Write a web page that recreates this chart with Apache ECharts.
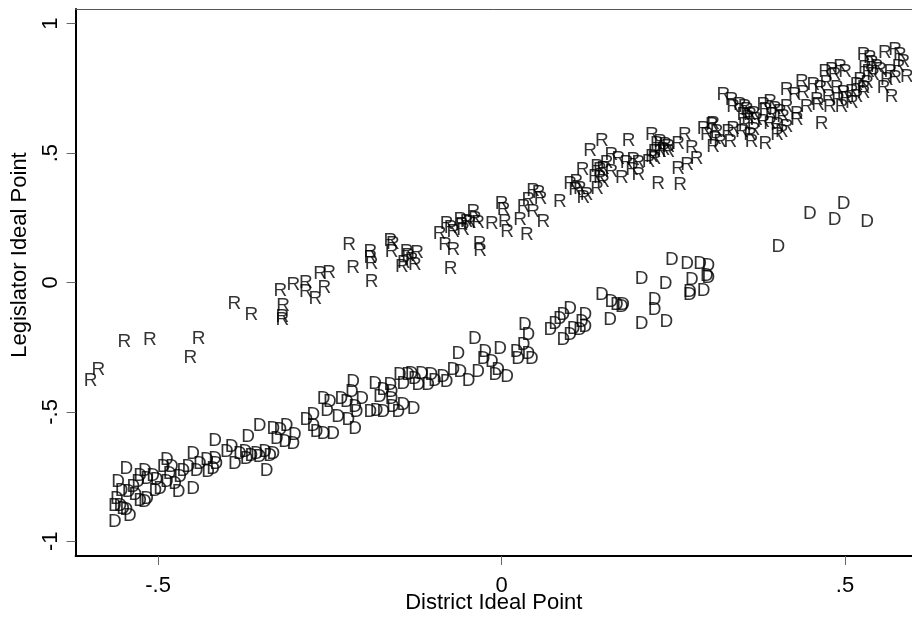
<!DOCTYPE html>
<html lang="en">
<head>
<meta charset="UTF-8">
<title>Legislator vs District Ideal Point</title>
<style>
  html, body { margin: 0; padding: 0; background: #fff; }
  #chart { width: 912px; height: 622px; }
</style>
</head>
<body>
<div id="chart"></div>
<script src="https://cdn.jsdelivr.net/npm/echarts@6/dist/echarts.min.js"></script>
<script>
// Republicans: [district ideal point, legislator ideal point]
const repPoints = [
  [-0.598,-0.378],[-0.587,-0.336],[-0.549,-0.229],[-0.512,-0.220],[-0.441,-0.216],[-0.453,-0.291],
  [-0.389,-0.081],[-0.364,-0.123],[-0.322,-0.033],[-0.318,-0.091],[-0.319,-0.133],[-0.319,-0.144],
  [-0.303,-0.010],[-0.285,-0.001],[-0.285,-0.036],[-0.271,-0.062],[-0.264,0.032],[-0.251,0.039],
  [-0.258,-0.021],[-0.222,0.147],[-0.216,0.057],[-0.191,0.119],[-0.191,0.094],[-0.189,0.003],
  [-0.189,0.071],[-0.162,0.161],[-0.158,0.149],[-0.160,0.119],[-0.145,0.061],[-0.142,0.076],
  [-0.138,0.119],[-0.136,0.102],[-0.131,0.087],[-0.123,0.113],[-0.126,0.067],[-0.090,0.190],
  [-0.082,0.145],[-0.080,0.226],[-0.074,0.213],[-0.070,0.196],[-0.070,0.125],[-0.074,0.055],
  [-0.060,0.244],[-0.058,0.222],[-0.056,0.205],[-0.051,0.235],[-0.046,0.229],[-0.041,0.274],
  [-0.039,0.248],[-0.034,0.229],[-0.032,0.149],[-0.031,0.123],[-0.014,0.226],[0.000,0.306],
  [0.003,0.283],[0.005,0.235],[0.008,0.196],[0.027,0.244],[0.037,0.183],[0.032,0.293],
  [0.039,0.319],[0.046,0.355],[0.054,0.345],[0.057,0.325],[0.046,0.274],[0.061,0.235],
  [0.085,0.312],[0.129,0.509],[0.146,0.548],[0.185,0.548],[0.219,0.570],[0.226,0.538],
  [0.231,0.544],[0.238,0.532],[0.243,0.523],[0.257,0.538],[0.267,0.570],[0.277,0.519],
  [0.284,0.480],[0.270,0.454],[0.257,0.441],[0.260,0.377],[0.228,0.383],[0.306,0.609],
  [0.311,0.557],[0.118,0.435],[0.100,0.383],[0.109,0.390],[0.107,0.357],[0.114,0.364],
  [0.119,0.329],[0.124,0.338],[0.139,0.448],[0.143,0.435],[0.148,0.441],[0.153,0.461],
  [0.136,0.409],[0.143,0.403],[0.148,0.390],[0.139,0.364],[0.160,0.493],[0.170,0.480],
  [0.160,0.428],[0.175,0.403],[0.182,0.461],[0.192,0.473],[0.199,0.461],[0.190,0.435],
  [0.199,0.415],[0.214,0.467],[0.223,0.480],[0.223,0.506],[0.231,0.506],[0.236,0.512],
  [0.243,0.506],[0.219,0.486],[0.323,0.725],[0.335,0.706],[0.337,0.680],[0.357,0.667],
  [0.362,0.648],[0.367,0.654],[0.381,0.686],[0.384,0.667],[0.391,0.699],[0.393,0.648],
  [0.398,0.673],[0.405,0.660],[0.410,0.641],[0.294,0.596],[0.308,0.615],[0.299,0.570],
  [0.313,0.583],[0.330,0.583],[0.337,0.596],[0.350,0.583],[0.354,0.609],[0.362,0.570],
  [0.367,0.590],[0.384,0.538],[0.364,0.544],[0.318,0.544],[0.333,0.544],[0.308,0.525],
  [0.401,0.570],[0.408,0.583],[0.352,0.648],[0.359,0.635],[0.371,0.628],[0.381,0.622],
  [0.391,0.615],[0.401,0.609],[0.347,0.686],[0.354,0.680],[0.415,0.602],[0.430,0.628],
  [0.466,0.615],[0.527,0.880],[0.536,0.867],[0.539,0.848],[0.558,0.886],[0.573,0.899],
  [0.580,0.880],[0.585,0.854],[0.566,0.815],[0.578,0.834],[0.590,0.796],[0.561,0.783],
  [0.573,0.790],[0.556,0.751],[0.568,0.718],[0.529,0.828],[0.534,0.815],[0.546,0.834],
  [0.551,0.822],[0.541,0.802],[0.522,0.783],[0.532,0.770],[0.527,0.751],[0.471,0.815],
  [0.481,0.822],[0.493,0.834],[0.500,0.815],[0.485,0.802],[0.437,0.776],[0.454,0.764],
  [0.464,0.751],[0.473,0.770],[0.415,0.744],[0.427,0.725],[0.439,0.732],[0.488,0.751],
  [0.498,0.732],[0.510,0.738],[0.517,0.764],[0.459,0.706],[0.476,0.718],[0.490,0.706],
  [0.502,0.712],[0.517,0.718],[0.527,0.732],[0.415,0.680],[0.430,0.654],[0.444,0.680],
  [0.461,0.686],[0.478,0.680],[0.495,0.680],[0.510,0.693]
];

// Democrats: [district ideal point, legislator ideal point]
const demPoints = [
  [-0.563,-0.926],[-0.541,-0.900],[-0.546,-0.880],[-0.551,-0.874],[-0.555,-0.861],[-0.560,-0.835],
  [-0.563,-0.861],[-0.558,-0.771],[-0.546,-0.719],[-0.553,-0.803],[-0.543,-0.810],[-0.533,-0.822],
  [-0.536,-0.790],[-0.529,-0.771],[-0.526,-0.745],[-0.519,-0.726],[-0.516,-0.835],[-0.519,-0.848],
  [-0.526,-0.842],[-0.516,-0.758],[-0.507,-0.745],[-0.502,-0.764],[-0.497,-0.797],[-0.504,-0.803],
  [-0.487,-0.771],[-0.483,-0.738],[-0.492,-0.713],[-0.480,-0.713],[-0.487,-0.687],[-0.470,-0.810],
  [-0.475,-0.777],[-0.468,-0.752],[-0.463,-0.726],[-0.456,-0.713],[-0.449,-0.797],[-0.449,-0.661],
  [-0.444,-0.726],[-0.439,-0.700],[-0.429,-0.687],[-0.427,-0.732],[-0.420,-0.719],[-0.415,-0.700],
  [-0.417,-0.680],[-0.417,-0.610],[-0.400,-0.655],[-0.393,-0.636],[-0.388,-0.700],[-0.381,-0.661],
  [-0.373,-0.655],[-0.371,-0.680],[-0.369,-0.597],[-0.364,-0.668],[-0.356,-0.661],[-0.352,-0.674],
  [-0.344,-0.655],[-0.337,-0.668],[-0.332,-0.661],[-0.342,-0.726],[-0.352,-0.552],[-0.332,-0.564],
  [-0.322,-0.571],[-0.313,-0.552],[-0.327,-0.603],[-0.315,-0.616],[-0.303,-0.622],[-0.301,-0.590],
  [-0.284,-0.532],[-0.274,-0.552],[-0.269,-0.578],[-0.274,-0.513],[-0.259,-0.584],[-0.245,-0.584],
  [-0.259,-0.448],[-0.250,-0.462],[-0.254,-0.494],[-0.238,-0.520],[-0.233,-0.448],[-0.225,-0.462],
  [-0.216,-0.384],[-0.218,-0.423],[-0.213,-0.481],[-0.211,-0.500],[-0.213,-0.564],[-0.223,-0.532],
  [-0.203,-0.448],[-0.191,-0.500],[-0.182,-0.494],[-0.172,-0.500],[-0.184,-0.390],[-0.177,-0.442],
  [-0.172,-0.416],[-0.160,-0.423],[-0.162,-0.397],[-0.160,-0.448],[-0.158,-0.481],[-0.150,-0.500],
  [-0.143,-0.474],[-0.128,-0.487],[-0.148,-0.358],[-0.143,-0.390],[-0.136,-0.358],[-0.131,-0.352],
  [-0.126,-0.371],[-0.121,-0.397],[-0.116,-0.352],[-0.107,-0.397],[-0.102,-0.358],[-0.097,-0.378],
  [-0.085,-0.365],[-0.080,-0.384],[-0.070,-0.339],[-0.060,-0.345],[-0.048,-0.378],[-0.063,-0.274],
  [-0.034,-0.345],[-0.026,-0.294],[-0.014,-0.307],[-0.005,-0.339],[-0.009,-0.358],[0.008,-0.365],
  [-0.002,-0.255],[-0.039,-0.216],[-0.024,-0.268],[0.022,-0.268],[0.024,-0.294],[0.032,-0.242],
  [0.039,-0.274],[0.044,-0.294],[0.034,-0.165],[0.039,-0.203],[0.449,0.267],[0.498,0.303],
  [0.485,0.244],[0.532,0.235],[0.403,0.138],[0.248,0.089],[0.270,0.071],[0.289,0.071],
  [0.301,0.063],[0.299,0.025],[0.301,0.020],[0.277,0.009],[0.274,-0.036],[0.274,-0.049],
  [0.294,-0.032],[0.204,0.016],[0.239,-0.003],[0.146,-0.049],[0.160,-0.075],[0.168,-0.087],
  [0.175,-0.094],[0.177,-0.087],[0.158,-0.145],[0.223,-0.068],[0.223,-0.107],[0.204,-0.161],
  [0.240,-0.152],[0.100,-0.100],[0.090,-0.126],[0.085,-0.139],[0.122,-0.126],[0.117,-0.152],
  [0.122,-0.171],[0.114,-0.184],[0.105,-0.178],[0.100,-0.203],[0.090,-0.223],[0.071,-0.184],
  [0.078,-0.158]
];

const xTicks = [-0.5, 0, 0.5];
const xTickLabels = ['-.5', '0', '.5'];
const yTicks = [-1, -0.5, 0, 0.5, 1];
const yTickLabels = ['-1', '-.5', '0', '.5', '1'];

const font = 'Arial, "Liberation Sans", sans-serif';

function letterSeries(name, letter, data) {
  return {
    name: name,
    type: 'scatter',
    data: data,
    symbolSize: 1,
    itemStyle: { color: 'rgba(0,0,0,0)' },
    label: {
      show: true,
      position: 'inside',
      formatter: letter,
      color: '#000',
      fontSize: 19,
      fontFamily: font
    },
    emphasis: { disabled: true },
    silent: true
  };
}

let chart = echarts.init(document.getElementById('chart'));
chart.setOption({
  backgroundColor: '#fff',
  animation: false,
  // the plot runs past the right edge of the picture, so no right border
  grid: {
    left: 75.6, right: 0, top: 9, bottom: 66,
    show: false, outerBoundsMode: 'none', containLabel: false
  },
  xAxis: [{
    type: 'value',
    min: -0.62, max: 0.5975,
    splitLine: { show: false },
    axisLine: { onZero: false, lineStyle: { color: '#000', width: 2 } },
    axisTick: { show: true, length: 9, customValues: xTicks, lineStyle: { color: '#666' } },
    axisLabel: {
      customValues: xTicks,
      formatter: v => xTickLabels[xTicks.indexOf(v)],
      margin: 19, fontSize: 22, color: '#000', fontFamily: font
    },
    name: 'District Ideal Point',
    nameLocation: 'middle',
    nameGap: 36,
    nameMoveOverlap: false,
    nameTextStyle: { fontSize: 22, color: '#000', fontFamily: font }
  }, {
    // top frame line
    type: 'value', position: 'top',
    min: -0.62, max: 0.5975,
    splitLine: { show: false },
    axisLine: { onZero: false, lineStyle: { color: '#555', width: 1 } },
    axisTick: { show: false },
    axisLabel: { show: false }
  }],
  yAxis: {
    type: 'value',
    min: -1.057, max: 1.057,
    splitLine: { show: false },
    axisLine: { onZero: false, lineStyle: { color: '#000', width: 2 } },
    axisTick: { show: true, length: 9, customValues: yTicks, lineStyle: { color: '#666' } },
    axisLabel: {
      customValues: yTicks,
      formatter: v => yTickLabels[yTicks.indexOf(v)],
      rotate: 90,
      margin: 14, fontSize: 22, color: '#000', fontFamily: font
    }
  },
  graphic: [{
    type: 'text',
    x: 20, y: 255,
    rotation: Math.PI / 2,
    style: {
      text: 'Legislator Ideal Point',
      fontSize: 22, fontFamily: font, fill: '#000',
      align: 'center', verticalAlign: 'middle'
    }
  }],
  series: [
    letterSeries('Republican', 'R', repPoints),
    letterSeries('Democrat', 'D', demPoints)
  ]
});
</script>
</body>
</html>
